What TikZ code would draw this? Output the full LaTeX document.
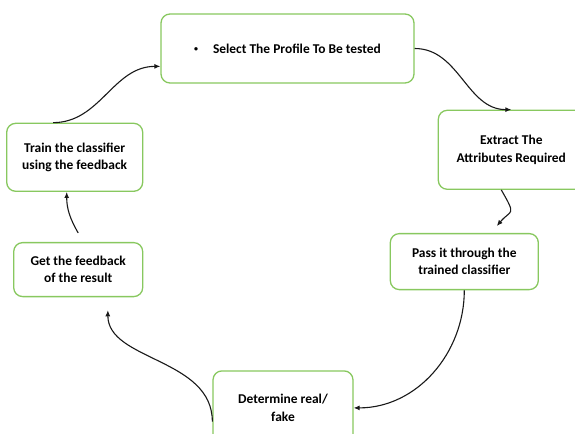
\documentclass[tikz,border=0pt]{standalone}
\usepackage{fontspec}
\setmainfont{Carlito}
\usepackage{xcolor}
\usetikzlibrary{arrows.meta, positioning}
\definecolor{boxgreen}{RGB}{136,200,95}

\begin{document}
\begin{tikzpicture}[
    x=1bp, y=-1bp,
    font=\fontsize{13.5}{17.5}\selectfont\bfseries,
    box/.style={draw=boxgreen, line width=1.3bp, rounded corners=9bp, align=center, inner sep=4bp, fill=white},
    arrow/.style={-{Latex[length=6bp, width=5bp]}, line width=1.1bp, black!90}
]
\useasboundingbox (0,0) rectangle (575,434);

% --- Blocks ---
\node[box, minimum width=253bp, minimum height=69bp] (sel) at (287.5,48.5) {\raisebox{1.5bp}{\fontsize{8}{8}\selectfont\textbullet}\hspace{15bp}Select The Profile To Be tested};

\node[box, minimum width=146bp, minimum height=79bp, below right=26bp and 23bp of sel] (attr) {Extract The\\
Attributes Required};

\node[box, minimum width=148bp, minimum height=56bp, below=43bp of attr, xshift=-47bp] (pass) {Pass it through the\\
trained classifier};

\node[box, minimum width=140bp, minimum height=74bp, below left=80bp and 36bp of pass] (decide) {Determine real/\\
fake};

\node[box, minimum width=136bp, minimum height=68bp, below left=39bp and 17bp of sel] (train) {Train the classifier\\
using the feedback};

\node[box, minimum width=129bp, minimum height=54bp, below left=50bp and 0bp of train.south east] (fb) {Get the feedback\\
of the result};

% --- Arrows ---
\draw[arrow] (sel.east) to[out=0, in=180] (attr.north);
\draw[arrow, shorten >=9bp] (attr.256) to[out=-60, in=50, looseness=1.8] (pass.47);
\draw[arrow] (pass.south) to[out=-90, in=0] (decide.east);
\draw[arrow, shorten >=13bp] (decide.191) to[out=90, in=-90] (fb.317);
\draw[arrow] ([yshift=9bp]fb.north) to[out=120, in=-90] (train.257);
\draw[arrow] (train.122) to[out=0, in=180] (sel.188);

\end{tikzpicture}
\end{document}
